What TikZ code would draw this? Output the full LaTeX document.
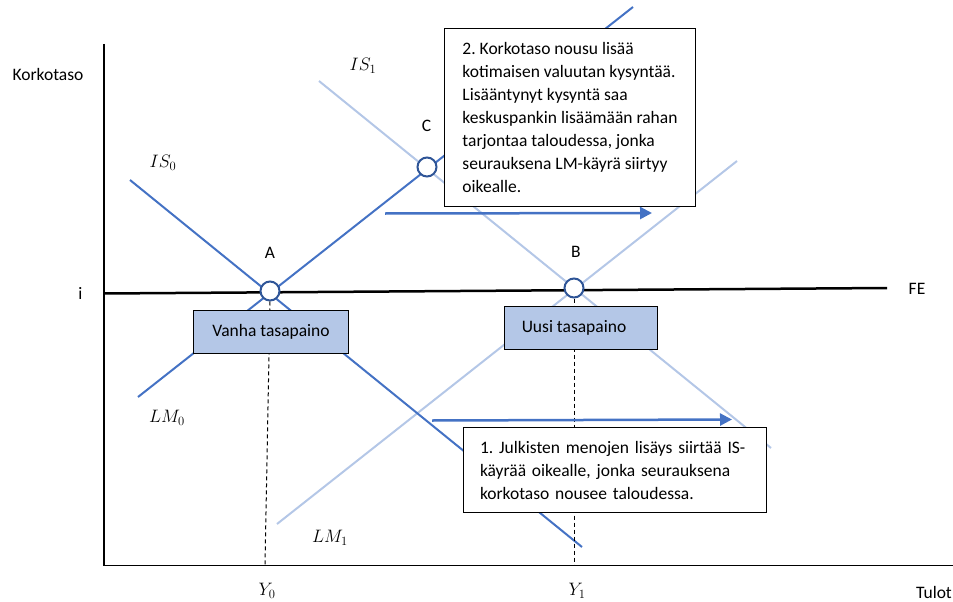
\documentclass[tikz,border=0pt]{standalone}
\usepackage{fix-cm}
\usepackage{fontspec}
\setmainfont{Carlito}
\usetikzlibrary{arrows.meta}
\definecolor{dblue}{HTML}{4472C4}
\definecolor{lblue}{HTML}{B4C7E7}
\definecolor{cblue}{HTML}{2F5597}
\frenchspacing
\begin{document}
\begin{tikzpicture}[x=1pt,y=-1pt,
  font=\fontsize{17.5}{23}\selectfont\frenchspacing,
  darkcurve/.style={dblue, line width=2pt},
  lightcurve/.style={lblue, line width=2pt},
  eqpoint/.style={circle, draw=cblue, fill=white, line width=2pt, minimum size=19pt, inner sep=0pt},
  shiftarrow/.style={dblue, line width=2.5pt, -{Triangle[length=12pt,width=12pt]}},
  guide/.style={black, line width=1pt, dash pattern=on 4pt off 3pt},
  eqbox/.style={draw=black, fill=lblue, line width=1pt, minimum height=43pt, anchor=north west, inner sep=0pt},
  notebox/.style={draw=black, fill=white, line width=1pt, anchor=north west, align=left},
  mathlabel/.style={inner sep=0pt, font=\fontsize{18}{22}\selectfont}]
\useasboundingbox (0,0) rectangle (953,602);

% axes
\draw[line width=1.2pt] (104,44) -- (104,565.5) -- (953,565.5);

% curves
\draw[lightcurve] (319,81) -- (771,448);
\draw[lightcurve] (277,524) -- (737,161);
\draw[darkcurve] (130,180) -- (582,547);
\draw[darkcurve] (138,397) -- (633,7);

% FE line
\draw[line width=2.5pt] (104,293.5) -- (887,288);

% equilibrium points
\node[eqpoint] (A) at (270,291) {};
\node[eqpoint] (B) at (574,288) {};
\node[eqpoint] (C) at (427,167) {};

% guides
\coordinate (Y0base) at (265,565);
\coordinate (Y1base) at (574,565);
\draw[guide] (A.south) -- (Y0base);
\draw[guide] (B.south) -- (Y1base);

% boxes
\node[eqbox, minimum width=155pt] (old) at (193,310) {Vanha tasapaino};
\node[eqbox, minimum width=153pt] (new) at (504,306) {Uusi tasapaino\hspace*{14pt}};

\node[notebox, minimum width=251pt, minimum height=178pt] (note2) at (444,28)
 {2. Korkotaso nousu lisää\\kotimaisen valuutan kysyntää.\\Lisääntynyt kysyntä saa\\keskuspankin lisäämään rahan\\tarjontaa taloudessa, jonka\\seurauksena LM-käyrä siirtyy\\oikealle.};

% arrows
\coordinate (a2s) at (385,213.5);
\coordinate (a2e) at (652,213);
\coordinate (a1s) at (432,420.5);
\coordinate (a1e) at (732,419.5);
\draw[shiftarrow] (a2s) -- (a2e);
\draw[shiftarrow] (a1s) -- (a1e);

\node[notebox, text width=270pt, inner xsep=16.5pt, minimum height=85pt] (note1) at (463,427)
 {1. Julkisten menojen lisäys siirtää IS-\\käyrää oikealle, jonka seurauksena\\korkotaso nousee taloudessa.};

% point labels
\node (Alab) at (270,253) {A};
\node (Blab) at (576,252) {B};
\node (Clab) at (426.5,126) {C};

% text labels
\node (ylab) at (48,74) {Korkotaso};
\node (ilab) at (80.5,293) {i};
\node (FElab) at (917,289) {FE};
\node (xlab) at (934,592) {Tulot};

% curve labels
\node[mathlabel] (IS1lab) at (363,66) {$IS_1$};
\node[mathlabel] (IS0lab) at (163,163) {$IS_0$};
\node[mathlabel] (LM0lab) at (167,418) {$LM_0$};
\node[mathlabel] (LM1lab) at (330,538) {$LM_1$};
\node[mathlabel] (Y0lab) at (267,591) {$Y_0$};
\node[mathlabel] (Y1lab) at (577,591) {$Y_1$};
\end{tikzpicture}
\end{document}
